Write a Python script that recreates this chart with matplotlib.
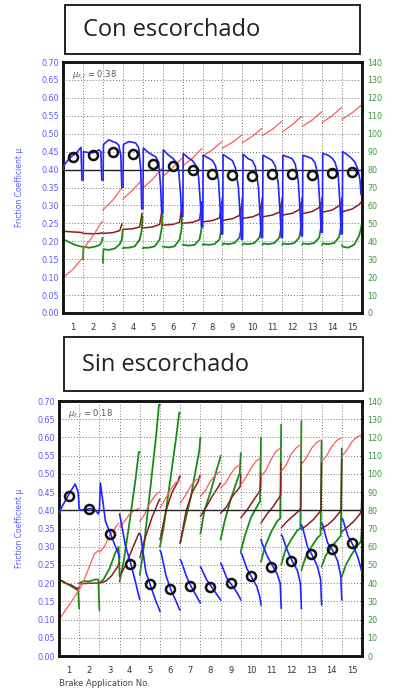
import numpy as np
import matplotlib
matplotlib.use('Agg')
import matplotlib.pyplot as plt
from matplotlib.patches import Rectangle

# ---- data ----
apps = list(range(1, 16))
mu_ticks = [0.00, 0.05, 0.10, 0.15, 0.20, 0.25, 0.30, 0.35, 0.40, 0.45, 0.50, 0.55, 0.60, 0.65, 0.70]
temp_ticks = [0, 10, 20, 30, 40, 50, 60, 70, 80, 90, 100, 110, 120, 130, 140]

# Con escorchado
con_mu_avg = [0.435, 0.44, 0.45, 0.443, 0.415, 0.41, 0.398, 0.387, 0.385, 0.383, 0.387, 0.387, 0.385, 0.39, 0.393]
con_blue = [
    [0.40, 0.41, 0.43, 0.44, 0.445, 0.455, 0.462, 0.37],
    [0.37, 0.45, 0.447, 0.447, 0.45, 0.455, 0.45, 0.37],
    [0.37, 0.47, 0.483, 0.478, 0.475, 0.468, 0.44, 0.35],
    [0.35, 0.47, 0.478, 0.476, 0.474, 0.46, 0.40, 0.29],
    [0.29, 0.46, 0.447, 0.44, 0.436, 0.42, 0.35, 0.28],
    [0.28, 0.455, 0.44, 0.432, 0.422, 0.40, 0.33, 0.27],
    [0.27, 0.445, 0.432, 0.425, 0.413, 0.38, 0.30, 0.24],
    [0.24, 0.44, 0.432, 0.425, 0.41, 0.37, 0.28, 0.22],
    [0.22, 0.442, 0.432, 0.425, 0.405, 0.35, 0.26, 0.205],
    [0.205, 0.443, 0.43, 0.425, 0.408, 0.352, 0.26, 0.21],
    [0.21, 0.44, 0.432, 0.425, 0.41, 0.36, 0.27, 0.21],
    [0.21, 0.44, 0.435, 0.43, 0.415, 0.37, 0.28, 0.215],
    [0.215, 0.44, 0.435, 0.43, 0.418, 0.38, 0.29, 0.225],
    [0.225, 0.445, 0.44, 0.432, 0.42, 0.39, 0.30, 0.22],
    [0.22, 0.45, 0.44, 0.43, 0.42, 0.40, 0.37, 0.33],
]
con_red = [
    [19.6, 24.4, 30.6], [35.4, 43, 51.2], [57.4, 63, 70], [63.6, 68.6, 74.4],
    [69.6, 74.6, 80.8], [76, 81, 86.4], [82, 86.4, 91.8], [87.4, 91, 95.6],
    [92, 95.2, 99.2], [95, 98.6, 103], [99, 102.4, 106.8], [101, 105, 109.6],
    [104, 107.6, 112.2], [106.2, 110, 114.6], [108, 111.6, 116],
]
con_brown = [
    [45.6, 45.2, 45, 44.8], [44.4, 44.2, 44.4, 44.8], [44.4, 44.8, 46, 50],
    [46.6, 47, 48, 55.8], [47.4, 48, 49.4, 57.6], [49, 49.4, 50.6, 60],
    [50, 50.6, 52, 62], [50.8, 51.6, 53, 62], [51.6, 52.6, 54.4, 61],
    [52.8, 53.6, 55.2, 62], [53.6, 54.6, 56.2, 62], [54.6, 55.6, 57.6, 62],
    [55.4, 56.6, 58.8, 62], [56.2, 57.4, 59.8, 62], [56.4, 58, 60.4, 62],
]
con_green = [
    [41, 41, 39.6, 38, 37.2, 37, 37],
    [30, 37, 36.4, 37, 38, 40, 42],
    [28, 35.6, 35.2, 36, 38.4, 41, 46],
    [36, 36.4, 36.4, 37.2, 41, 46, 54],
    [36, 36.4, 36.4, 37.2, 41, 47, 56],
    [37, 37, 36.6, 37.2, 41, 47, 60],
    [38, 38, 37.6, 38, 41, 47, 62],
    [38, 38.4, 38, 38.4, 41, 47, 64],
    [38, 38.8, 38.4, 39, 42, 48, 64],
    [38, 38.8, 38.4, 39, 42, 48, 64],
    [38, 38.8, 38.4, 39, 42, 48, 64],
    [38, 38.8, 38.4, 39, 42, 48, 64],
    [38, 38.8, 38.4, 39, 42, 48, 64],
    [38, 38.8, 38.4, 39, 42.4, 48.4, 64],
    [38, 37, 36.4, 38, 43, 47, 50],
]

# Sin escorchado
sin_mu_avg = [0.44, 0.403, 0.334, 0.252, 0.198, 0.184, 0.193, 0.19, 0.20, 0.22, 0.243, 0.262, 0.28, 0.293, 0.31]
sin_blue = [
    [0.39, 0.40, 0.425, 0.45, 0.472, 0.45, 0.405],
    [0.405, 0.40, 0.402, 0.405, 0.40, 0.39, 0.40],
    [0.40, 0.475, 0.37, 0.335, 0.30, 0.28, 0.27],
    [0.39, 0.375, 0.30, 0.255, 0.20, 0.165, 0.155],
    [0.335, 0.33, 0.23, 0.19, 0.15, 0.13, 0.122],
    [0.29, 0.285, 0.22, 0.18, 0.15, 0.13, 0.126],
    [0.265, 0.26, 0.22, 0.19, 0.165, 0.15, 0.145],
    [0.245, 0.24, 0.21, 0.19, 0.17, 0.158, 0.154],
    [0.255, 0.25, 0.215, 0.195, 0.175, 0.16, 0.154],
    [0.283, 0.28, 0.24, 0.215, 0.19, 0.16, 0.14],
    [0.32, 0.31, 0.275, 0.25, 0.225, 0.20, 0.131],
    [0.332, 0.33, 0.29, 0.26, 0.235, 0.20, 0.13],
    [0.36, 0.355, 0.30, 0.275, 0.245, 0.21, 0.14],
    [0.365, 0.36, 0.31, 0.29, 0.26, 0.22, 0.154],
    [0.378, 0.375, 0.33, 0.305, 0.27, 0.24, 0.228],
]
sin_red = [
    [19.8, 24, 28, 32, 36.2], [36.2, 42, 49, 56, 58], [57, 60, 66, 70, 73],
    [71, 74, 78, 80, 81], [73.8, 78, 84, 88, 90.2], [81.2, 86, 91, 95, 96.6],
    [84, 88, 93, 96.4, 97.8], [87.6, 91, 96, 99.6, 101.2], [92.2, 95, 100, 103.6, 105],
    [94, 98, 103, 107, 108.6], [98.6, 102, 108, 112.4, 114.2], [101.2, 105, 111, 114.4, 116],
    [105, 109, 114, 117.2, 118.6], [106.8, 110, 115, 118.4, 119.6], [109.6, 113, 117.6, 120.2, 121.4],
]
sin_brown = [
    [42, 40, 39, 37, 37.4, 38], [39.6, 39.8, 40, 40, 40, 40], [40, 41, 44, 49, 51, 51],
    [43.6, 50, 58, 66, 67.4, 67.4], [54, 66, 76, 84, 86, 86], [63.8, 80, 90, 96, 98.6, 98.6],
    [62, 80, 90, 96, 99, 99], [76.6, 82, 88, 93, 94.8, 94.8], [78.4, 82, 88, 92, 93, 100],
    [76, 80, 85, 90, 91, 100], [73, 78, 82, 87, 88.4, 106], [70.4, 74, 77, 80, 81.2, 106.8],
    [69.6, 72, 75, 79, 80, 106.8], [70, 72, 75, 79, 80, 108], [68.2, 71, 74, 78, 80.2, 90],
]
sin_green = [
    [42, 41, 39, 37, 36, 26], [40, 41, 41, 42, 42, 25], [40, 42, 48, 57, 60, 44],
    [40.8, 52, 74, 98, 112, 112], [44.4, 60, 90, 120, 138, 138], [60, 72, 96, 120, 133.4, 133.4],
    [62, 72, 86, 104, 113, 120], [67, 80, 90, 102, 107.6, 110], [63.8, 74, 86, 96, 100.4, 111.4],
    [57.4, 66, 76, 82, 84.8, 120], [51.8, 60, 68, 74, 75.6, 127], [50, 58, 64, 69, 70, 129],
    [47.2, 54, 60, 65, 66.4, 118], [49, 55, 60, 64, 66, 114], [43.6, 50, 56, 61, 62.8, 72],
]

# where inside one brake application each stored value sits
FR_CON_BLUE = [0.01, 0.03, 0.3, 0.5, 0.65, 0.8, 0.9, 0.95]
FR_CON_RED = [0.0, 0.5, 0.97]
FR_CON_BROWN = [0.0, 0.5, 0.85, 0.97]
FR_CON_GREEN = [0.0, 0.03, 0.3, 0.6, 0.85, 0.95, 0.99]
FR_SIN_BLUE = [0.0, 0.05, 0.3, 0.55, 0.8, 0.95, 1.0]
FR_SIN_RED = [0.0, 0.25, 0.5, 0.75, 0.97]
FR_SIN_BROWN = [0.0, 0.3, 0.6, 0.9, 0.97, 1.0]
FR_SIN_GREEN = [0.0, 0.2, 0.5, 0.8, 0.95, 1.0]

BLUE = '#2424ff'
RED = '#ff5a5a'
BROWN = '#8c1c1c'
GREEN = '#168c16'
TICK_BLUE = '#5a5aff'
TICK_GREEN = '#3a9a3a'


def draw_segs(ax, segs, fr, color, lw, z=2):
    for i, vals in enumerate(segs):
        ax.plot(i + np.array(fr), vals, color=color, lw=lw, zorder=z, solid_capstyle='round')


def setup_axes(ax, ax2):
    ax.set_xlim(0, 15)
    ax.set_ylim(0, 0.70)
    ax2.set_ylim(0, 140)
    ax.set_xticks([a - 0.5 for a in apps])
    ax.set_xticklabels([str(a) for a in apps], fontsize=6, color='#333333')
    ax.set_yticks(mu_ticks)
    ax.set_yticklabels(['%.2f' % v for v in mu_ticks], fontsize=5.8, color=TICK_BLUE)
    ax2.set_yticks(temp_ticks)
    ax2.set_yticklabels([str(v) for v in temp_ticks], fontsize=5.8, color=TICK_GREEN)
    ax.tick_params(axis='both', length=0, pad=3)
    ax.tick_params(axis='x', pad=7)
    ax2.tick_params(axis='y', length=0, pad=4)
    for v in mu_ticks[1:-1]:
        if abs(v - 0.40) < 1e-6:
            ax.axhline(v, color='#222222', lw=1.0, zorder=1)
        else:
            ax.axhline(v, color='#777777', lw=0.7, ls=(0, (1, 2)), zorder=1)
    for a in apps[:-1]:
        ax.axvline(a, color='#777777', lw=0.7, ls=(0, (1, 2)), zorder=1)
    for a in (ax, ax2):
        for s in a.spines.values():
            s.set_linewidth(1.8)
            s.set_color('#111111')
    ax2.set_zorder(ax.get_zorder() - 1)
    ax.patch.set_visible(False)


fig = plt.figure(figsize=(3.93, 6.89), dpi=100)
W, H = 393.0, 689.0

panels = [
    ('Con escorchado', (63, 62, 362, 313), (65, 5, 360, 54), '0.38',
     con_blue, con_red, con_brown, con_green, con_mu_avg,
     FR_CON_BLUE, FR_CON_RED, FR_CON_BROWN, FR_CON_GREEN),
    ('Sin escorchado', (59, 401, 362, 656), (64, 337, 363, 391), '0.18',
     sin_blue, sin_red, sin_brown, sin_green, sin_mu_avg,
     FR_SIN_BLUE, FR_SIN_RED, FR_SIN_BROWN, FR_SIN_GREEN),
]

for (title, box, tbox, mufl, blue, red, brown, green, avg,
     fb, fr_, fbr, fg) in panels:
    l, t, r, b = box
    ax = fig.add_axes([l / W, 1 - b / H, (r - l) / W, (b - t) / H])
    ax2 = ax.twinx()
    setup_axes(ax, ax2)

    draw_segs(ax2, green, fg, GREEN, 1.3)
    draw_segs(ax2, brown, fbr, BROWN, 1.1)
    draw_segs(ax2, red, fr_, RED, 0.9)
    draw_segs(ax, blue, fb, BLUE, 1.2, z=3)
    ax.plot([a - 0.5 for a in apps], avg, 'o', ms=6.5, mfc='none', mec='#111111',
            mew=1.8, zorder=5)
    ax.text(0.03, 0.975, r'$\mu_{f,l}$ = ' + mufl, transform=ax.transAxes,
            fontsize=6, color='#555555', va='top', ha='left', zorder=6)

    # y label
    fig.text(20 / W, 1 - (t + b) / 2 / H, 'Friction Coefficient \u03bc', rotation=90,
             fontsize=5.5, color=TICK_BLUE, ha='center', va='center')

    # title box
    tl, tt, tr, tb = tbox
    fig.add_artist(Rectangle((tl / W, 1 - tb / H), (tr - tl) / W, (tb - tt) / H,
                             transform=fig.transFigure, facecolor='white',
                             edgecolor='#111111', lw=1.3))
    fig.text((tl + 18) / W, 1 - ((tt + tb) / 2 + 1) / H, title, fontsize=17,
             family=['Open Sans', 'DejaVu Sans'], color='#222222', ha='left', va='center')

fig.text(59 / W, 1 - 684 / H, 'Brake Application No.', fontsize=6, color='#444444',
         ha='left', va='center')

fig.savefig('out.png', dpi=100)
